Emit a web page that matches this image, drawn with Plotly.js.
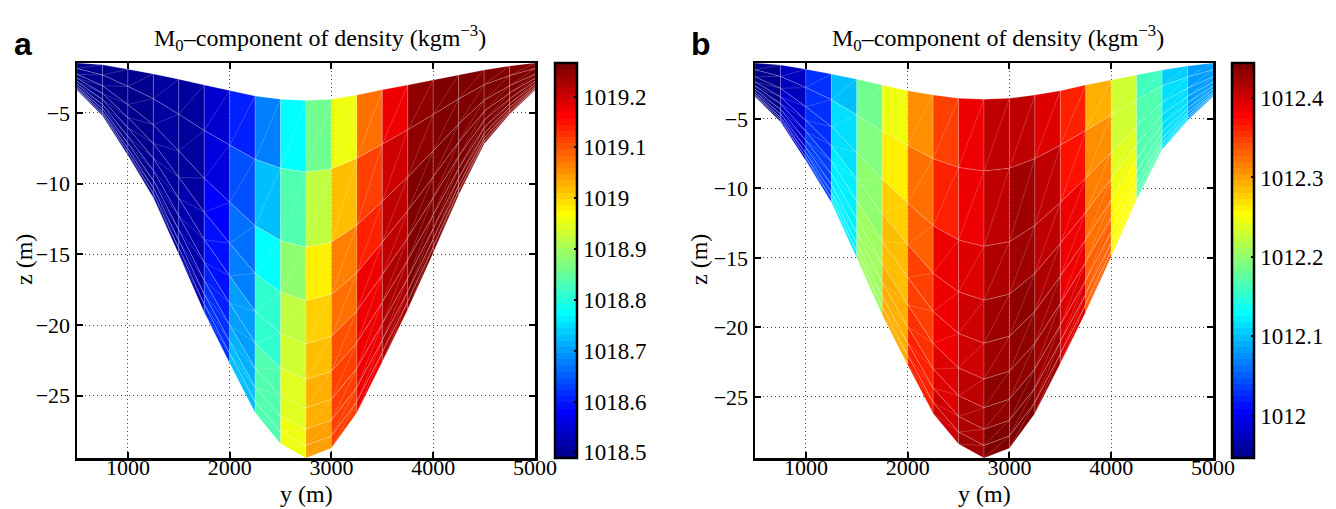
<!DOCTYPE html>
<html><head><meta charset="utf-8">
<script src="https://cdn.plot.ly/plotly-3.0.1.min.js"></script>
<style>html,body{margin:0;padding:0;background:#fff}#chart{width:1336px;height:509px}</style>
</head><body><div id="chart"></div>
<script>
// ---- data ----
const yNodes = [500,750,1000,1250,1500,1750,2000,2250,2500,2750,3000,3250,3500,3750,4000,4250,4500,4750,5000];
const bedDepth = [-3.4,-5.2,-8.0,-11.0,-15.0,-19.1,-22.7,-26.2,-28.4,-29.4,-28.7,-26.2,-22.6,-18.9,-14.9,-10.8,-7.2,-5.1,-3.4];
const surfaceA = [-1.47,-1.6,-1.91,-2.24,-2.62,-3.02,-3.42,-3.8,-4.03,-4.13,-4.03,-3.73,-3.37,-3.02,-2.67,-2.31,-1.96,-1.68,-1.47];
const surfaceB = [-0.97,-1.12,-1.42,-1.76,-2.14,-2.55,-2.96,-3.27,-3.51,-3.58,-3.51,-3.27,-2.96,-2.55,-2.19,-1.83,-1.47,-1.19,-0.97];
const sigmaLevels = [0,0.2,0.41,0.56,0.68,0.78,0.86,0.92,0.965,1];

// density per column (top layer -> bottom layer), panel a
const densityA = [
 [1018.497,1018.497,1018.497,1018.497,1018.497,1018.497,1018.497,1018.497,1018.497],
 [1018.500,1018.500,1018.500,1018.500,1018.500,1018.500,1018.500,1018.500,1018.500],
 [1018.500,1018.500,1018.500,1018.500,1018.500,1018.500,1018.500,1018.500,1018.500],
 [1018.502,1018.502,1018.502,1018.502,1018.502,1018.502,1018.502,1018.502,1018.502],
 [1018.508,1018.510,1018.513,1018.515,1018.518,1018.518,1018.518,1018.518,1018.518],
 [1018.543,1018.559,1018.582,1018.590,1018.598,1018.606,1018.613,1018.613,1018.613],
 [1018.610,1018.644,1018.668,1018.683,1018.699,1018.707,1018.714,1018.722,1018.722],
 [1018.683,1018.730,1018.780,1018.808,1018.815,1018.831,1018.835,1018.839,1018.839],
 [1018.769,1018.831,1018.878,1018.916,1018.928,1018.940,1018.947,1018.955,1018.955],
 [1018.862,1018.920,1018.975,1019.010,1019.017,1019.025,1019.033,1019.041,1019.041],
 [1018.955,1019.013,1019.060,1019.083,1019.099,1019.111,1019.114,1019.114,1019.114],
 [1019.072,1019.111,1019.142,1019.169,1019.173,1019.181,1019.181,1019.181,1019.181],
 [1019.181,1019.196,1019.208,1019.212,1019.219,1019.227,1019.227,1019.227,1019.227],
 [1019.243,1019.250,1019.254,1019.258,1019.258,1019.258,1019.258,1019.258,1019.258],
 [1019.262,1019.262,1019.262,1019.262,1019.262,1019.262,1019.262,1019.262,1019.262],
 [1019.262,1019.262,1019.262,1019.262,1019.262,1019.262,1019.262,1019.262,1019.262],
 [1019.262,1019.262,1019.262,1019.262,1019.262,1019.262,1019.262,1019.262,1019.262],
 [1019.262,1019.262,1019.262,1019.262,1019.262,1019.262,1019.262,1019.262,1019.262]
];
// panel b
const densityB = [
 [1011.950,1011.950,1011.950,1011.950,1011.950,1011.950,1011.950,1011.950,1011.950],
 [1011.977,1011.977,1011.982,1011.982,1011.985,1011.985,1011.985,1011.985,1011.985],
 [1012.025,1012.027,1012.031,1012.031,1012.036,1012.036,1012.036,1012.036,1012.036],
 [1012.099,1012.111,1012.116,1012.121,1012.121,1012.121,1012.121,1012.121,1012.121],
 [1012.181,1012.188,1012.196,1012.203,1012.210,1012.210,1012.210,1012.210,1012.210],
 [1012.248,1012.265,1012.275,1012.282,1012.288,1012.290,1012.290,1012.290,1012.290],
 [1012.305,1012.320,1012.330,1012.345,1012.350,1012.355,1012.360,1012.360,1012.360],
 [1012.350,1012.362,1012.382,1012.389,1012.389,1012.394,1012.397,1012.404,1012.404],
 [1012.382,1012.389,1012.394,1012.404,1012.404,1012.409,1012.414,1012.419,1012.424],
 [1012.407,1012.409,1012.419,1012.422,1012.424,1012.429,1012.434,1012.439,1012.442],
 [1012.407,1012.422,1012.424,1012.429,1012.434,1012.436,1012.439,1012.442,1012.442],
 [1012.397,1012.407,1012.412,1012.417,1012.422,1012.424,1012.424,1012.427,1012.427],
 [1012.362,1012.369,1012.382,1012.389,1012.389,1012.394,1012.394,1012.394,1012.394],
 [1012.295,1012.307,1012.315,1012.325,1012.325,1012.330,1012.330,1012.330,1012.330],
 [1012.227,1012.233,1012.240,1012.248,1012.250,1012.250,1012.250,1012.250,1012.250],
 [1012.164,1012.168,1012.171,1012.171,1012.171,1012.171,1012.171,1012.171,1012.171],
 [1012.109,1012.116,1012.116,1012.116,1012.116,1012.116,1012.116,1012.116,1012.116],
 [1012.084,1012.086,1012.086,1012.086,1012.086,1012.086,1012.086,1012.086,1012.086]
];
const colorRangeA = [1018.489, 1019.266];
const colorRangeB = [1011.947, 1012.444];
const cbTickValsA = [1018.5,1018.6,1018.7,1018.8,1018.9,1019,1019.1,1019.2];
const cbTickTextA = ['1018.5','1018.6','1018.7','1018.8','1018.9','1019','1019.1','1019.2'];
const cbTickValsB = [1012,1012.1,1012.2,1012.3,1012.4];
const cbTickTextB = ['1012','1012.1','1012.2','1012.3','1012.4'];
const xTickVals = [1000,2000,3000,4000,5000];
const zTickVals = [-25,-20,-15,-10,-5];
const titleText = 'M<sub>0</sub>\u2013component of density (kgm<sup>\u22123</sup>)';

// ---- MATLAB jet(64) ----
function jetRGB(i){
  const r = i+1;
  const uk = k => (k<1||k>47) ? 0 : (k<=16 ? k/16 : (k<=31 ? 1 : (48-k)/16));
  const R=uk(r-24), G=uk(r-8), B=uk(r+8);
  return 'rgb('+Math.round(R*255)+','+Math.round(G*255)+','+Math.round(B*255)+')';
}
const jetScale = [];
for(let i=0;i<64;i++){ const c=jetRGB(i); jetScale.push([i/64,c]); jetScale.push([(i+1)/64,c]); }
function colorFor(v,cr){
  let idx=Math.floor((v-cr[0])/(cr[1]-cr[0])*64);
  idx=Math.max(0,Math.min(63,idx));
  return jetRGB(idx);
}

const W=1336,H=509;
const px=x=>x/W, py=y=>1-y/H;
const serif='"Liberation Serif", serif';

const panels=[
 {xa:'x',ya:'y',surf:surfaceA,dens:densityA,cr:colorRangeA,tv:cbTickValsA,tt:cbTickTextA,cbx:555,off:0,zx:24},
 {xa:'x2',ya:'y2',surf:surfaceB,dens:densityB,cr:colorRangeB,tv:cbTickValsB,tt:cbTickTextB,cbx:1232,off:678,zx:699}
];

const traces=[];
panels.forEach(p=>{
  const zAt=(i,s)=>p.surf[i]+sigmaLevels[s]*(bedDepth[i]-p.surf[i]);
  for(let j=0;j<yNodes.length-1;j++){
    for(let k=0;k<sigmaLevels.length-1;k++){
      const y0=yNodes[j], y1=yNodes[j+1];
      const TL=[y0,zAt(j,k)], TR=[y1,zAt(j+1,k)], BR=[y1,zAt(j+1,k+1)], BL=[y0,zAt(j,k+1)];
      const pts=[BL,TL,TR,BR,BL,TR];
      traces.push({type:'scatter',mode:'lines',xaxis:p.xa,yaxis:p.ya,
        x:pts.map(q=>q[0]),y:pts.map(q=>q[1]),fill:'toself',
        fillcolor:colorFor(p.dens[j][k],p.cr),
        line:{color:'rgba(255,255,255,0.3)',width:0.6},
        hoverinfo:'skip',showlegend:false});
    }
  }
  traces.push({type:'scatter',mode:'markers',xaxis:p.xa,yaxis:p.ya,x:[0],y:[-100],
    marker:{size:1,opacity:0,color:[p.cr[0]],cmin:p.cr[0],cmax:p.cr[1],colorscale:jetScale,showscale:true,
      colorbar:{x:px(p.cbx),xanchor:'left',xpad:0,ypad:0,y:py(458),yanchor:'bottom',len:395/H,lenmode:'fraction',
        thickness:22,thicknessmode:'pixels',outlinewidth:2.5,outlinecolor:'#000',
        ticks:'inside',ticklen:4,tickwidth:2,tickcolor:'#000',tickvals:p.tv,ticktext:p.tt,
        tickfont:{family:serif,size:23,color:'#000'}}},
    hoverinfo:'skip',showlegend:false});
});

function xAxis(l,r,anchor){return {domain:[px(l),px(r)],range:[500,5000],anchor:anchor,tickvals:xTickVals,
  ticks:'inside',ticklen:6,tickwidth:2,tickcolor:'#000',showline:true,linewidth:2.5,linecolor:'#000',mirror:'ticks',
  showgrid:true,gridcolor:'#444',gridwidth:1,griddash:'1px,3px',zeroline:false,ticklabelstandoff:-12,
  tickfont:{family:serif,size:22,color:'#000'},fixedrange:true};}
function yAxis(top,anchor){return {domain:[py(458),py(63)],range:[-29.4,top],anchor:anchor,tickvals:zTickVals,
  ticks:'inside',ticklen:6,tickwidth:2,tickcolor:'#000',showline:true,linewidth:2.5,linecolor:'#000',mirror:'ticks',
  showgrid:true,gridcolor:'#444',gridwidth:1,griddash:'1px,3px',zeroline:false,
  tickfont:{family:serif,size:22,color:'#000'},fixedrange:true};}

const ann=[];
panels.forEach((p,n)=>{
  ann.push({xref:'paper',yref:'paper',x:px(23+p.off),y:py(44),xanchor:'center',yanchor:'middle',showarrow:false,
    text:'<b>'+(n===0?'a':'b')+'</b>',font:{family:'"Liberation Sans", Arial, sans-serif',size:32,color:'#000'}});
  ann.push({xref:'paper',yref:'paper',x:px(320+p.off),y:py(38),xanchor:'center',yanchor:'middle',showarrow:false,
    text:titleText,font:{family:serif,size:24,color:'#000'}});
  ann.push({xref:'paper',yref:'paper',x:px(306+p.off),y:py(494),xanchor:'center',yanchor:'middle',showarrow:false,
    text:'y (m)',font:{family:serif,size:24,color:'#000'}});
  ann.push({xref:'paper',yref:'paper',x:px(p.zx),y:py(260),xanchor:'center',yanchor:'middle',showarrow:false,textangle:-90,
    text:'z (m)',font:{family:serif,size:24,color:'#000'}});
});

const layout={width:W,height:H,margin:{l:0,r:0,t:0,b:0},paper_bgcolor:'#fff',plot_bgcolor:'#fff',showlegend:false,
  xaxis:xAxis(77,535,'y'),yaxis:yAxis(-1.47,'x'),xaxis2:xAxis(755,1213,'y2'),yaxis2:yAxis(-0.97,'x2'),annotations:ann};
Plotly.newPlot('chart',traces,layout,{staticPlot:true,displayModeBar:false});
</script></body></html>
